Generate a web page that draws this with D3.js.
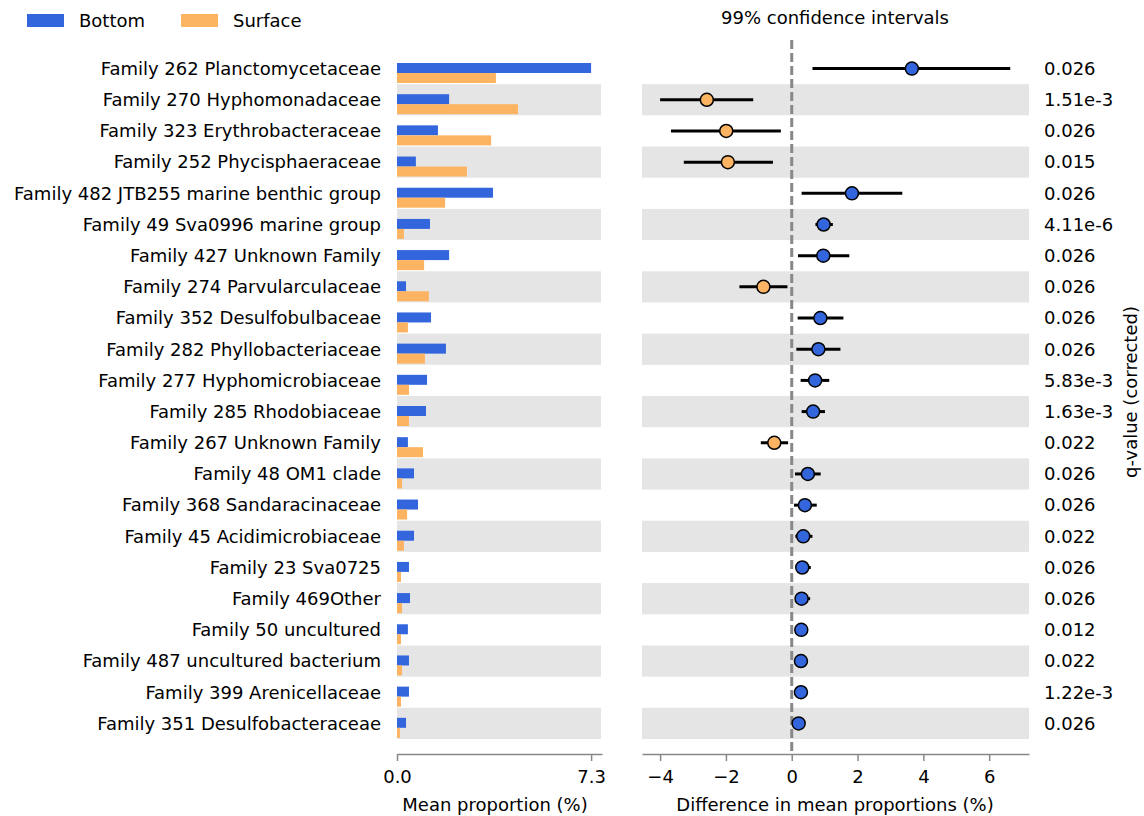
<!DOCTYPE html>
<html>
<head>
<meta charset="utf-8">
<script src="https://cdn.jsdelivr.net/npm/d3@7"></script>
<style>
  body { margin: 0; background: #fff; }
  svg { font-family: "DejaVu Sans", sans-serif; }
</style>
</head>
<body>
<svg id="chart" width="1144" height="816"></svg>
<script>
const families = [
  "Family 262 Planctomycetaceae", "Family 270 Hyphomonadaceae", "Family 323 Erythrobacteraceae",
  "Family 252 Phycisphaeraceae", "Family 482 JTB255 marine benthic group", "Family 49 Sva0996 marine group",
  "Family 427 Unknown Family", "Family 274 Parvularculaceae", "Family 352 Desulfobulbaceae",
  "Family 282 Phyllobacteriaceae", "Family 277 Hyphomicrobiaceae", "Family 285 Rhodobiaceae",
  "Family 267 Unknown Family", "Family 48 OM1 clade", "Family 368 Sandaracinaceae",
  "Family 45 Acidimicrobiaceae", "Family 23 Sva0725", "Family 469Other",
  "Family 50 uncultured", "Family 487 uncultured bacterium", "Family 399 Arenicellaceae",
  "Family 351 Desulfobacteraceae"
];
const bottomMean = [7.3, 1.96, 1.54, 0.71, 3.61, 1.24, 1.96, 0.34, 1.28, 1.84, 1.13,
  1.09, 0.41, 0.64, 0.79, 0.64, 0.45, 0.49, 0.41, 0.45, 0.45, 0.34];
const surfaceMean = [3.72, 4.55, 3.54, 2.63, 1.81, 0.26, 1.02, 1.20, 0.41, 1.05, 0.45,
  0.45, 0.98, 0.19, 0.38, 0.26, 0.15, 0.19, 0.15, 0.19, 0.15, 0.11];
const diffMean = [3.65, -2.58, -1.99, -1.94, 1.83, 0.97, 0.96, -0.86, 0.87, 0.81, 0.71,
  0.65, -0.53, 0.49, 0.40, 0.35, 0.32, 0.30, 0.29, 0.28, 0.28, 0.21];
const ciLow = [0.63, -4.0, -3.67, -3.28, 0.30, 0.72, 0.19, -1.59, 0.18, 0.14, 0.27,
  0.30, -0.94, 0.10, 0.07, 0.11, 0.13, 0.14, 0.13, 0.12, 0.13, 0.06];
const ciHigh = [6.64, -1.17, -0.33, -0.57, 3.36, 1.25, 1.75, -0.13, 1.57, 1.48, 1.14,
  1.01, -0.11, 0.88, 0.76, 0.63, 0.58, 0.56, 0.45, 0.44, 0.43, 0.36];
const qValues = ["0.026", "1.51e-3", "0.026", "0.015", "0.026", "4.11e-6", "0.026", "0.026",
  "0.026", "0.026", "5.83e-3", "1.63e-3", "0.022", "0.026", "0.026", "0.022", "0.026",
  "0.026", "0.012", "0.022", "1.22e-3", "0.026"];
const groups = ["Bottom", "Surface"];
const groupColors = ["#3366dd", "#fdb462"];

const svg = d3.select("#chart");
const fontSize = 18;
const axisY = 754;

const rows = families.map((name, i) => ({
  name, i,
  bottom: bottomMean[i], surface: surfaceMean[i],
  diff: diffMean[i], lo: ciLow[i], hi: ciHigh[i], q: qValues[i]
}));

const y = d3.scaleBand().domain(families).range([53, 739]).paddingInner(0);
const xLeft = d3.scaleLinear().domain([0, 7.71]).range([397, 602]);
const xRight = d3.scaleLinear().domain([-4.55, 7.21]).range([642, 1029]);
const rowMid = d => y(d.name) + y.bandwidth() / 2;

// alternating gray bands
const bandRows = rows.filter(d => d.i % 2 === 1);
svg.append("g").selectAll("rect")
  .data(bandRows).join("rect")
  .attr("x", xLeft(0)).attr("width", 601 - xLeft(0))
  .attr("y", d => y(d.name)).attr("height", y.bandwidth())
  .attr("fill", "#e5e5e5");
svg.append("g").selectAll("rect")
  .data(bandRows).join("rect")
  .attr("x", xRight.range()[0]).attr("width", xRight.range()[1] - xRight.range()[0])
  .attr("y", d => y(d.name)).attr("height", y.bandwidth())
  .attr("fill", "#e5e5e5");

// mean proportion bars
const barH = 10;
svg.append("g").selectAll("rect")
  .data(rows).join("rect")
  .attr("x", xLeft(0)).attr("y", d => y(d.name) + 10)
  .attr("width", d => xLeft(d.bottom) - xLeft(0)).attr("height", barH)
  .attr("fill", groupColors[0]);
svg.append("g").selectAll("rect")
  .data(rows).join("rect")
  .attr("x", xLeft(0)).attr("y", d => y(d.name) + 10 + barH)
  .attr("width", d => xLeft(d.surface) - xLeft(0)).attr("height", barH)
  .attr("fill", groupColors[1]);

// row labels
svg.append("g")
  .attr("font-size", fontSize).attr("text-anchor", "end")
  .selectAll("text").data(rows).join("text")
  .attr("x", 381).attr("y", rowMid)
  .attr("dy", "0.35em")
  .text(d => d.name);

// axes
function styleAxis(g) {
  g.select(".domain").attr("stroke", "#888").attr("stroke-width", 1.5);
  g.selectAll(".tick line").attr("stroke", "#888").attr("stroke-width", 1.5);
  g.selectAll(".tick text").attr("font-size", fontSize).attr("fill", "#000")
    .attr("font-family", "DejaVu Sans, sans-serif");
}
svg.append("g")
  .attr("transform", `translate(0,${axisY})`)
  .call(d3.axisBottom(xLeft).tickValues([0, 7.3]).tickFormat(d3.format(".1f"))
    .tickSizeInner(7).tickSizeOuter(0).tickPadding(9))
  .call(styleAxis);
svg.append("g")
  .attr("transform", `translate(0,${axisY})`)
  .call(d3.axisBottom(xRight).tickValues([-4, -2, 0, 2, 4, 6])
    .tickSizeInner(7).tickSizeOuter(0).tickPadding(9))
  .call(styleAxis);

svg.append("text").attr("x", 495).attr("y", 811).attr("text-anchor", "middle")
  .attr("font-size", fontSize).text("Mean proportion (%)");
svg.append("text").attr("x", 835).attr("y", 811).attr("text-anchor", "middle")
  .attr("font-size", fontSize).text("Difference in mean proportions (%)");
svg.append("text").attr("x", 835).attr("y", 24).attr("text-anchor", "middle")
  .attr("font-size", fontSize).text("99% confidence intervals");

// zero reference line
svg.append("line")
  .attr("x1", xRight(0)).attr("x2", xRight(0))
  .attr("y1", 40).attr("y2", axisY)
  .attr("stroke", "#888").attr("stroke-width", 3)
  .attr("stroke-dasharray", "9,4");

// confidence intervals and means
svg.append("g").selectAll("line")
  .data(rows).join("line")
  .attr("x1", d => xRight(d.lo)).attr("x2", d => xRight(d.hi))
  .attr("y1", rowMid).attr("y2", rowMid)
  .attr("stroke", "#000").attr("stroke-width", 3);
svg.append("g").selectAll("circle")
  .data(rows).join("circle")
  .attr("cx", d => xRight(d.diff))
  .attr("cy", rowMid)
  .attr("r", 6.5)
  .attr("fill", d => d.diff >= 0 ? groupColors[0] : groupColors[1])
  .attr("stroke", "#000").attr("stroke-width", 1.5);

// q-values
svg.append("g")
  .attr("font-size", fontSize)
  .selectAll("text").data(rows).join("text")
  .attr("x", 1044).attr("y", rowMid)
  .attr("dy", "0.35em")
  .text(d => d.q);
svg.append("text")
  .attr("transform", "translate(1131,392) rotate(-90)")
  .attr("text-anchor", "middle").attr("dy", "0.35em").attr("font-size", fontSize)
  .text("q-value (corrected)");

// legend
const legend = svg.append("g").selectAll("g")
  .data(groups).join("g")
  .attr("transform", (d, i) => `translate(${27 + i * 154},14)`);
legend.append("rect").attr("width", 37).attr("height", 13)
  .attr("fill", (d, i) => groupColors[i]);
legend.append("text").attr("x", 52).attr("y", 6.5).attr("dy", "0.35em")
  .attr("font-size", fontSize).text(d => d);
</script>
</body>
</html>
